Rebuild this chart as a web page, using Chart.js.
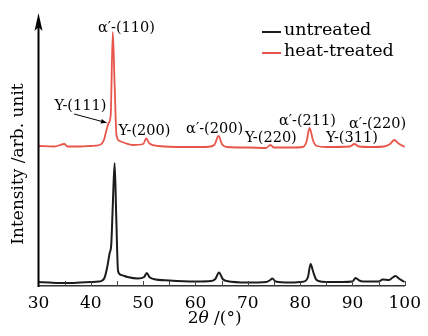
<!DOCTYPE html>
<html><head><meta charset="utf-8">
<script src="https://cdn.jsdelivr.net/npm/chart.js@4/dist/chart.umd.min.js"></script>
<style>html,body{margin:0;padding:0;background:#fff;}#wrap{width:428px;height:336px;}</style>
</head><body><div id="wrap"><canvas id="c" width="428" height="336"></canvas></div>
<script>
// ---- data (2θ in degrees, intensity in arb. units) ----
const untreatedTheta = [30,32,35,38,40,41.5,42,42.6,43.1,43.6,43.9,44.2,44.55,44.85,45.2,45.8,47,49,50.2,50.7,51.2,52,55,60,63,63.8,64.5,65.2,66,70,73.5,74.3,74.7,75.3,78,80,81,81.5,82,82.5,83,83.5,85,88,90,90.6,91.3,92,95,95.8,97,97.7,98.2,99,100];
const untreatedIntensity = [4,3.5,3,3.5,4,4.5,5,8,18,33,41,81,123,71,15,11,9,7.5,9,13,9,7,5.5,4.5,5,7,13.5,7,5,3.5,4,6,7.5,4.5,3.5,4,5,9,22,14,7,5,4,4,4.5,8,5.5,4.5,4.5,6.5,6,8.5,10,7,4];
const heatTheta = [30,33,35,35.5,38,40,41.7,42.5,43,43.4,43.8,44.2,44.55,44.9,45.5,46.5,48,50,50.6,51.2,53,58,62,63.6,64.4,65.1,66,70,73.5,74.3,75,78,80.5,81.2,81.8,82.5,83.2,85,89.5,90.4,91.2,94,96,97.2,98,98.8,100];
const heatIntensity = [140,139.5,142,139.5,139.5,140,141,146,156,163,171,254,201,151,145,143,141,142,147.5,142.5,140,139,139,141,150,141.5,139,138.5,138,141,138.5,138.5,139,144,158,145,140,139,139.5,142,139.5,139,139.5,142,146,142.5,139];
const seriesNames = ['untreated','heat-treated'];
const xTickLabels = [30,40,50,60,70,80,90,100];
const peakLabels = ['α′-(110)','Y-(111)','Y-(200)','α′-(200)','Y-(220)','α′-(211)','Y-(311)','α′-(220)'];
const peakLabelTheta = [46.8,38.0,50.25,63.65,74.4,81.4,89.9,94.8];
const peakLabelIntensity = [258,180,155,157,148,165,148,161.5];
const arrowFrom = [36.8,172];
const arrowTo = [43.0,163.3];

const SERIF = '"DejaVu Serif", serif';
const RED = '#e8554b', BLACK = '#1c1c1c';

const toPts = (xs, ys) => xs.map((x,i)=>({x, y: ys[i]}));

const decor = {
  id: 'decor',
  afterDraw(chart) {
    const ctx = chart.ctx, ca = chart.chartArea, xs = chart.scales.x, ys = chart.scales.y;
    ctx.save();
    // y axis with arrow
    const ax = ca.left;
    ctx.strokeStyle = '#000'; ctx.lineWidth = 2;
    ctx.beginPath(); ctx.moveTo(ax, ca.bottom + 1); ctx.lineTo(ax, ca.top + 12); ctx.stroke();
    ctx.fillStyle = '#000';
    ctx.beginPath(); ctx.moveTo(ax, ca.top - 1); ctx.lineTo(ax - 4, ca.top + 17);
    ctx.lineTo(ax, ca.top + 13); ctx.lineTo(ax + 4, ca.top + 17); ctx.closePath(); ctx.fill();
    // inward tick marks every 5 degrees
    ctx.strokeStyle = '#444'; ctx.lineWidth = 1;
    for (let v = xs.min + 5; v <= xs.max; v += 5) {
      const px = Math.round(xs.getPixelForValue(v)) + 0.5;
      ctx.beginPath(); ctx.moveTo(px, ca.bottom); ctx.lineTo(px, ca.bottom - 5); ctx.stroke();
    }
    // x title: 2θ /(°)
    ctx.fillStyle = '#000'; ctx.textBaseline = 'middle';
    const parts = [['2','17px '+SERIF],['θ','italic 17px '+SERIF],[' /(°)','17px '+SERIF]];
    let w = 0; parts.forEach(p => { ctx.font = p[1]; w += ctx.measureText(p[0]).width; });
    let tx = (ca.left + ca.right)/2 - 7 - w/2;
    parts.forEach(p => { ctx.font = p[1]; ctx.textAlign = 'left'; ctx.fillText(p[0], tx, 319); tx += ctx.measureText(p[0]).width; });
    // y title
    ctx.save(); ctx.translate(19, 164); ctx.rotate(-Math.PI/2);
    ctx.font = '17px ' + SERIF; ctx.textAlign = 'center'; ctx.textBaseline = 'middle';
    ctx.fillText('Intensity /arb. unit', 0, 0); ctx.restore();
    // legend
    ctx.font = '17.5px ' + SERIF; ctx.textAlign = 'left'; ctx.textBaseline = 'middle';
    chart.data.datasets.forEach((ds, i) => {
      const y = 30 + i * 21;
      ctx.strokeStyle = ds.borderColor; ctx.lineWidth = 2;
      ctx.beginPath(); ctx.moveTo(262, y + 2); ctx.lineTo(281, y + 2); ctx.stroke();
      ctx.fillStyle = '#000'; ctx.fillText(ds.label, 284, y);
    });
    // peak labels
    ctx.font = '14.5px ' + SERIF; ctx.textAlign = 'center'; ctx.textBaseline = 'middle'; ctx.fillStyle = '#000';
    peakLabels.forEach((t, i) => {
      ctx.fillText(t, xs.getPixelForValue(peakLabelTheta[i]), ys.getPixelForValue(peakLabelIntensity[i]));
    });
    // arrow for Y-(111)
    const x1 = xs.getPixelForValue(arrowFrom[0]), y1 = ys.getPixelForValue(arrowFrom[1]);
    const x2 = xs.getPixelForValue(arrowTo[0]), y2 = ys.getPixelForValue(arrowTo[1]);
    ctx.strokeStyle = '#000'; ctx.lineWidth = 1;
    ctx.beginPath(); ctx.moveTo(x1, y1); ctx.lineTo(x2, y2); ctx.stroke();
    const ang = Math.atan2(y2 - y1, x2 - x1);
    ctx.beginPath(); ctx.moveTo(x2, y2);
    ctx.lineTo(x2 - 6*Math.cos(ang - 0.4), y2 - 6*Math.sin(ang - 0.4));
    ctx.lineTo(x2 - 6*Math.cos(ang + 0.4), y2 - 6*Math.sin(ang + 0.4));
    ctx.closePath(); ctx.fill();
    ctx.restore();
  }
};

new Chart(document.getElementById('c'), {
  type: 'line',
  data: {
    datasets: [
      { label: seriesNames[0], data: toPts(untreatedTheta, untreatedIntensity), borderColor: BLACK, borderWidth: 2, pointRadius: 0, cubicInterpolationMode: 'monotone', fill: false },
      { label: seriesNames[1], data: toPts(heatTheta, heatIntensity), borderColor: RED, borderWidth: 1.8, pointRadius: 0, cubicInterpolationMode: 'monotone', fill: false }
    ]
  },
  options: {
    responsive: false, animation: false, devicePixelRatio: 1,
    layout: { padding: { left: 38.5, right: 20.5, top: 14, bottom: 0 } },
    plugins: { legend: { display: false }, tooltip: { enabled: false } },
    scales: {
      x: {
        type: 'linear', min: 30, max: 100,
        afterBuildTicks: s => { s.ticks = xTickLabels.map(v => ({ value: v })); },
        afterFit: s => { s.height = 50; },
        ticks: { color: '#000', font: { family: SERIF, size: 17 }, padding: 7, maxRotation: 0, autoSkip: false },
        grid: { display: false, drawTicks: false },
        border: { display: true, color: '#333', width: 1.5 }
      },
      y: { display: false, min: 0, max: 272 }
    }
  },
  plugins: [decor]
});
</script>
</body></html>
